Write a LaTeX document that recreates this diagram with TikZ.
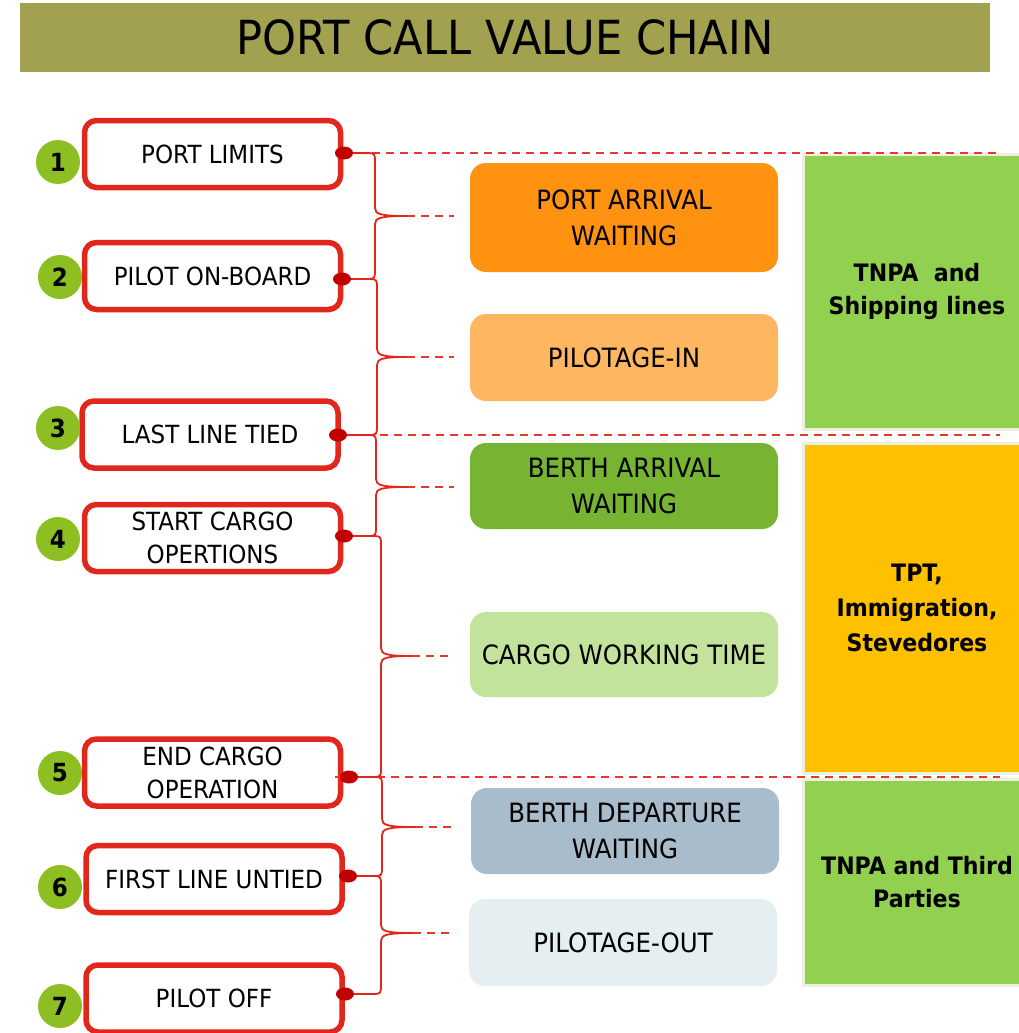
\documentclass[tikz,border=0pt]{standalone}
\usepackage{fontspec}
\setmainfont{DejaVu Sans}[FakeStretch=0.92]
\usetikzlibrary{calc,shapes.geometric}

\definecolor{evred}{HTML}{E3261C}
\definecolor{dotred}{HTML}{C00000}
\definecolor{badgegreen}{HTML}{8DBE22}
\definecolor{titlebar}{HTML}{A2A150}
\definecolor{arrorange}{HTML}{FF9210}
\definecolor{pilotin}{HTML}{FFB660}
\definecolor{berthgreen}{HTML}{76B432}
\definecolor{cargogreen}{HTML}{C3E29B}
\definecolor{departgrey}{HTML}{A9BCCB}
\definecolor{pilotout}{HTML}{E5EEF1}
\definecolor{stakegreen}{HTML}{92D050}
\definecolor{stakeorange}{HTML}{FFC000}
\definecolor{stakeedge}{HTML}{EBF1DE}
\definecolor{sepred}{HTML}{E8382A}

% curly brace joining two milestone dots, spine at x of #3, tip at #4
\newcommand\chainbrace[4]{%
  \draw[bracepath] let \p1=(#1), \p2=(#2), \p3=(#3), \p4=(#4) in
    (\p1) -- (\x3-7pt,\y1) .. controls (\x3-1pt,\y1) and (\x3,\y1-1pt) .. (\x3,\y1-7pt)
    -- (\x3,\y4+8pt) .. controls (\x3,\y4+2pt) and (\x3+5pt,\y4) .. (\p4)
    .. controls (\x3+5pt,\y4) and (\x3,\y4-2pt) .. (\x3,\y4-8pt)
    -- (\x3,\y2+7pt) .. controls (\x3,\y2+1pt) and (\x3-1pt,\y2) .. (\x3-7pt,\y2) -- (\p2);
}

\begin{document}
\begin{tikzpicture}[x=1pt,y=-1pt,
  event/.style={draw=evred, line width=5.5pt, rounded corners=12pt, fill=white,
    minimum width=256pt, minimum height=67pt, align=center, inner sep=0pt,
    font=\fontsize{25}{33}\selectfont},
  badge/.style={circle, fill=badgegreen, minimum size=44pt, inner sep=0pt,
    font=\bfseries\fontsize{25}{25}\selectfont},
  milestone/.style={ellipse, fill=dotred, minimum width=18pt, minimum height=13pt, inner sep=0pt},
  phase/.style={rounded corners=16pt, minimum width=308pt, align=center, inner sep=0pt,
    font=\fontsize{26.6}{36}\selectfont},
  stake/.style={draw=stakeedge, line width=3pt, minimum width=228pt, align=center,
    inner sep=0pt, font=\bfseries\fontsize{24}{33}\selectfont},
  bracepath/.style={draw=evred, line width=1.8pt},
  sepline/.style={draw=sepred, line width=2pt, dash pattern=on 8pt off 6pt},
  stub/.style={draw=sepred, line width=2pt, dash pattern=on 8pt off 6pt, shorten >=16pt},
]
\useasboundingbox (0,0) rectangle (1019,1033);

% title banner
\node[fill=titlebar, minimum width=970pt, minimum height=69pt, inner sep=0pt,
  font=\fontsize{47}{47}\selectfont] (title) at (505,37.5) {PORT CALL VALUE CHAIN};

% stakeholder columns
\node[stake, fill=stakegreen, minimum height=275pt] (shipping) at (917,291.5)
  {TNPA\ \ and\\Shipping lines};
\node[stake, fill=stakeorange, minimum height=330pt, font=\bfseries\fontsize{24}{35}\selectfont]
  (terminal) at (917,608) {TPT,\\Immigration,\\Stevedores};
\node[stake, fill=stakegreen, minimum height=206pt] (third) at (917,882)
  {TNPA and Third\\Parties};

% milestones of the port call
\node[event] (e1) at (212.5,154) {PORT LIMITS};
\node[event] (e2) at (212.5,276) {PILOT ON-BOARD};
\node[event] (e3) at (210,434.5) {LAST LINE TIED};
\node[event] (e4) at (212.5,538) {START CARGO\\OPERTIONS};
\node[event] (e5) at (212.5,772.5) {END CARGO\\OPERATION};
\node[event] (e6) at (214,879) {FIRST LINE UNTIED};
\node[event] (e7) at (214,998.5) {PILOT OFF};

\node[badge] (n1) at (58,162) {1};
\node[badge] (n2) at (60,277) {2};
\node[badge] (n3) at (58,428) {3};
\node[badge] (n4) at (58,539) {4};
\node[badge] (n5) at (60,773) {5};
\node[badge] (n6) at (60,887) {6};
\node[badge] (n7) at (60,1006) {7};

% phases between milestones
\node[phase, fill=arrorange, minimum height=109pt] (p1) at (624,217.5) {PORT ARRIVAL\\WAITING};
\node[phase, fill=pilotin, minimum height=87pt] (p2) at (624,357.5) {PILOTAGE-IN};
\node[phase, fill=berthgreen, minimum height=86pt] (p3) at (624,486) {BERTH ARRIVAL\\WAITING};
\node[phase, fill=cargogreen, minimum height=85pt] (p4) at (624,654.5) {CARGO WORKING TIME};
\node[phase, fill=departgrey, minimum height=86pt] (p5) at (625,831) {BERTH DEPARTURE\\WAITING};
\node[phase, fill=pilotout, minimum height=87pt] (p6) at (623,942.5) {PILOTAGE-OUT};

% anchor points of the milestone dots, brace spines and brace tips
\coordinate (d1) at (344,153);
\coordinate (d2) at (342,279);
\coordinate (d3) at (338,435);
\coordinate (d4) at (344,536);
\coordinate (d5) at (349,777);
\coordinate (d6) at (348,876);
\coordinate (d7) at (345,994);
\coordinate (s1) at (375,0);
\coordinate (s2) at (377,0);
\coordinate (s3) at (376,0);
\coordinate (s4) at (381,0);
\coordinate (s5) at (382,0);
\coordinate (s6) at (381,0);
\coordinate (t1) at (407,216);
\coordinate (t2) at (407,357);
\coordinate (t3) at (407,487);
\coordinate (t4) at (412,656);
\coordinate (t5) at (415,827);
\coordinate (t6) at (413,933);
\coordinate (sepend) at (1000,0);

% responsibility boundaries
\draw[sepline] (d1) -- (d1 -| sepend);
\draw[sepline] (d3) -- (d3 -| sepend);
\draw[sepline] ([xshift=-14pt]d5) -- (d5 -| sepend);

% braces from each milestone to the next, with leaders to the phases
\chainbrace{d1}{d2}{s1}{t1}
\chainbrace{d2}{d3}{s2}{t2}
\chainbrace{d3}{d4}{s3}{t3}
\chainbrace{d4}{d5}{s4}{t4}
\chainbrace{d5}{d6}{s5}{t5}
\chainbrace{d6}{d7}{s6}{t6}
\draw[stub] (t1) -- (t1 -| p1.west);
\draw[stub] (t2) -- (t2 -| p2.west);
\draw[stub] (t3) -- (t3 -| p3.west);
\draw[stub] (t4) -- (t4 -| p4.west);
\draw[stub] (t5) -- (t5 -| p5.west);
\draw[stub] (t6) -- (t6 -| p6.west);

\foreach \i in {1,...,7} { \node[milestone] (m\i) at (d\i) {}; }
\end{tikzpicture}
\end{document}
